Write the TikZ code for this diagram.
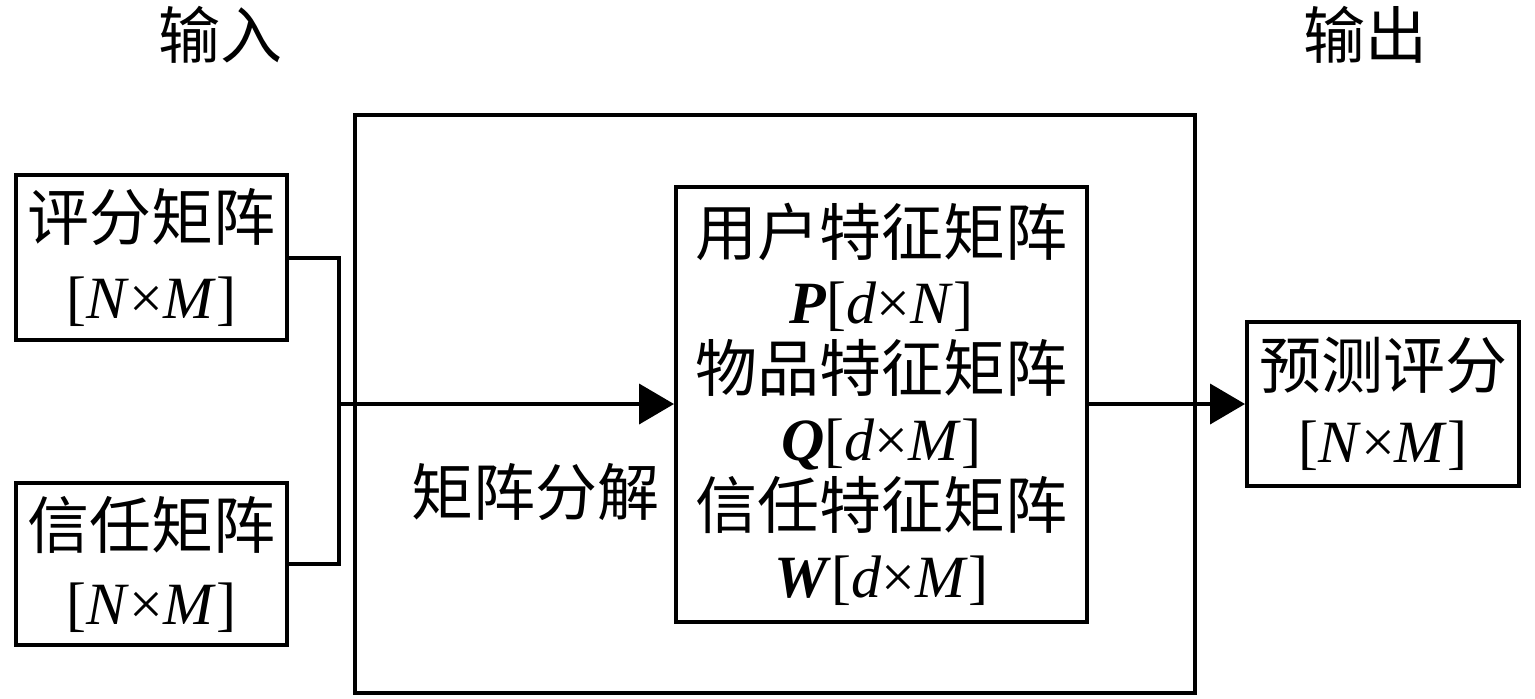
\documentclass[tikz,border=0pt]{standalone}
\usepackage{fontspec}
\setmainfont{Liberation Serif}
\newfontfamily\cjk{Noto Sans CJK SC}
\usetikzlibrary{arrows.meta}
\newcommand{\lb}{{[}}
\begin{document}
\begin{tikzpicture}[x=0.5pt,y=-0.5pt,
  box/.style={draw,line width=2pt,inner sep=0pt,align=center},
  conn/.style={line width=2pt},
  arr/.style={line width=2pt,-{Triangle[length=17.5pt,width=20pt]}},
  lbl/.style={inner sep=0pt,font=\cjk\fontsize{31}{36}\selectfont}]
\useasboundingbox (0,0) rectangle (1535,698);
\node[box,minimum width=420pt,minimum height=289pt] (big) at (775,404) {};
\node[box,minimum width=135.5pt,minimum height=82.5pt,font=\fontsize{30}{39}\selectfont] (A) at (151.5,257.5)
  {{\cjk\fontsize{31}{39}\selectfont 评分矩阵}\\\lb\textit{N}×\textit{M}]};
\node[box,minimum width=135.5pt,minimum height=81pt,font=\fontsize{30}{38}\selectfont] (B) at (151.5,564)
  {{\cjk\fontsize{31}{38}\selectfont 信任矩阵}\\\lb\textit{N}×\textit{M}]};
\node[box,minimum width=205.5pt,minimum height=217.5pt,font=\fontsize{30}{34.2}\selectfont] (mid) at (881.5,404)
  {{\cjk\fontsize{31}{34.2}\selectfont 用户特征矩阵}\\\textbf{\textit{P}}[\textit{d}×\textit{N}]\\
   {\cjk\fontsize{31}{34.2}\selectfont 物品特征矩阵}\\\textbf{\textit{Q}}[\textit{d}×\textit{M}]\\
   {\cjk\fontsize{31}{34.2}\selectfont 信任特征矩阵}\\\textbf{\textit{W}}[\textit{d}×\textit{M}]};
\node[box,minimum width=136pt,minimum height=82pt,font=\fontsize{30}{37}\selectfont] (out) at (1383,404)
  {{\cjk\fontsize{31}{37}\selectfont 预测评分}\\\lb\textit{N}×\textit{M}]};
\node[lbl] (in) at (220,35) {输入};
\node[lbl] (ou) at (1365,35) {输出};
\node[lbl] (mf) at (535,492) {矩阵分解};
\coordinate (j) at (339,404);
\draw[conn] (A.east) -| (j);
\draw[conn] (B.east) -| (j);
\draw[arr] (j) -- (mid.west);
\draw[arr] (mid.east) -- (out.west);
\end{tikzpicture}
\end{document}
